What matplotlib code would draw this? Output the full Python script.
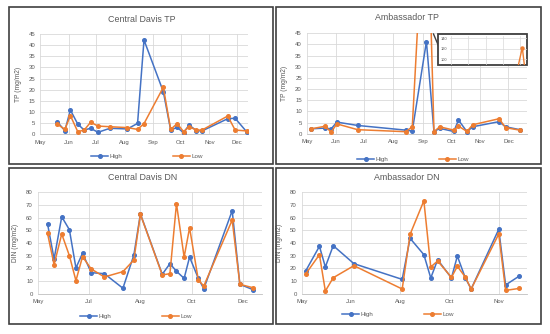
import matplotlib
matplotlib.use('Agg')
import matplotlib.pyplot as plt
from matplotlib.patches import Rectangle
from matplotlib.lines import Line2D

plt.rcParams['font.family'] = ['Liberation Sans', 'DejaVu Sans']

# Data (x = days from first tick)
month_ticks = [0, 31, 61, 92, 123, 153, 184, 214]
month_labels = ['May', 'Jun', 'Jul', 'Aug', 'Sep', 'Oct', 'Nov', 'Dec']

cd_tp_days = [19, 27, 33, 41, 48, 55, 63, 76, 95, 106, 113, 134, 142, 149, 156, 162, 170, 176, 204, 212, 225]
cd_tp_high = [5.5, 1.6, 10.9, 4.6, 1.9, 2.7, 0.9, 2.7, 2.4, 4.9, 42.3, 19.1, 1.9, 3.1, 0.7, 4.2, 1.6, 1.5, 7.0, 7.2, 0.9]
cd_tp_low = [4.5, 2.2, 8.4, 1.2, 1.9, 5.4, 3.7, 3.4, 3.0, 2.2, 4.8, 21.1, 2.2, 4.8, 1.2, 3.4, 1.9, 1.9, 8.2, 1.9, 1.5]

amb_tp_days = [5, 19, 26, 32, 54, 105, 112, 127, 135, 141, 156, 161, 170, 176, 204, 211, 226]
amb_tp_high = [2.2, 2.5, 2.2, 5.2, 3.7, 1.6, 1.2, 41.3, 0.9, 2.4, 1.0, 6.1, 0.9, 3.1, 5.4, 3.1, 1.8]
amb_tp_low = [2.2, 3.3, 0.8, 4.4, 1.8, 0.9, 3.1, 122, 0.9, 3.1, 1.6, 3.4, 1.0, 4.0, 6.7, 2.7, 1.6]

cd_dn_ticks = [0, 47, 94, 141, 188]
cd_dn_labels = ['May', 'Jul', 'Aug', 'Oct', 'Dec']
cd_dn_days = [9, 15, 22, 29, 35, 41, 49, 61, 78, 88, 94, 114, 121, 127, 134, 139, 147, 152, 178, 185, 197]
cd_dn_high = [55.2, 27.4, 60.7, 50.5, 20.3, 31.9, 16.6, 15.8, 4.3, 30.5, 62.9, 15.3, 23.7, 17.7, 12.1, 28.9, 12.1, 3.9, 65.5, 7.4, 3.2]
cd_dn_low = [47.6, 22.9, 47.1, 30.0, 10.3, 29.2, 19.5, 13.2, 17.4, 26.6, 62.6, 14.8, 15.8, 71.0, 28.9, 52.0, 10.8, 6.1, 58.1, 7.4, 4.7]

amb_dn_ticks = [0, 50, 100, 150, 200]
amb_dn_labels = ['May', 'Jun', 'Aug', 'Oct', 'Nov']
amb_dn_days = [4, 18, 24, 32, 53, 102, 110, 124, 131, 138, 152, 158, 166, 172, 200, 207, 221]
amb_dn_high = [17.9, 37.4, 21.1, 37.9, 23.7, 11.3, 43.7, 30.8, 12.4, 26.8, 12.4, 29.7, 12.6, 3.7, 50.8, 6.9, 14.0]
amb_dn_low = [15.5, 30.8, 2.1, 12.6, 22.1, 3.7, 46.8, 73.3, 21.1, 25.8, 12.9, 21.6, 13.2, 3.7, 47.1, 2.6, 4.2]

W, H = 550, 334
blue = '#4472C4'
orange = '#ED7D31'
grid_col = '#D9D9D9'
text_col = '#595959'


def px_axes(fig, x0, y0, x1, y1):
    return fig.add_axes([x0 / W, 1 - y1 / H, (x1 - x0) / W, (y1 - y0) / H])


def draw_panel(fig, box, title, title_xy, ylabel, days, high, low, xticks, xlabels,
               xlim, ymax, ystep, legend_xy):
    ax = px_axes(fig, *box)
    ax.plot(days, high, color=blue, lw=1.1, marker='o', ms=2.6, label='High', zorder=3)
    ax.plot(days, low, color=orange, lw=1.1, marker='o', ms=2.6, label='Low', zorder=3)
    ax.set_xlim(*xlim)
    ax.set_ylim(0, ymax)
    ax.set_xticks(xticks, xlabels)
    ax.set_yticks(range(0, ymax + 1, ystep))
    ax.grid(True, color=grid_col, lw=0.6)
    ax.set_axisbelow(True)
    for s in ['left', 'right', 'top']:
        ax.spines[s].set_visible(False)
    ax.spines['bottom'].set_color('#BFBFBF')
    ax.spines['bottom'].set_linewidth(0.6)
    ax.tick_params(length=0, labelsize=4.3, labelcolor=text_col)
    ax.tick_params(axis='y', pad=3.5)
    ax.tick_params(axis='x', pad=4)
    ax.set_ylabel(ylabel, fontsize=4.8, color=text_col)
    ax.yaxis.set_label_coords(-0.085, 0.5)
    fig.text(title_xy[0] / W, 1 - title_xy[1] / H, title, ha='center', va='center',
             fontsize=6.4, color=text_col)
    ax.legend(loc='center', bbox_to_anchor=(legend_xy[0] / W, 1 - legend_xy[1] / H),
              bbox_transform=fig.transFigure, ncol=2, frameon=False, fontsize=4.5,
              handlelength=2.7, columnspacing=8, handletextpad=0.3, labelcolor=text_col)
    return ax


fig = plt.figure(figsize=(5.5, 3.34), dpi=100)

# panel frames
for x0, y0, x1, y1 in [(9, 7, 273, 164), (276, 7, 541, 164), (9, 168, 273, 324), (276, 168, 541, 324)]:
    fig.add_artist(Rectangle((x0 / W, 1 - y1 / H), (x1 - x0) / W, (y1 - y0) / H,
                             transform=fig.transFigure, fill=False, ec='#3F3F3F', lw=1.2))

draw_panel(fig, (40, 34, 248, 134.3), 'Central Davis TP', (142, 19), 'TP (mg/m2)',
           cd_tp_days, cd_tp_high, cd_tp_low, month_ticks, month_labels, (0, 226), 45, 5, (147, 156))
draw_panel(fig, (306.7, 33.3, 527.3, 133.7), 'Ambassador TP', (407, 18), 'TP (mg/m2)',
           amb_tp_days, amb_tp_high, amb_tp_low, month_ticks, month_labels, (0, 234), 45, 5, (413, 159))
draw_panel(fig, (37.7, 192.3, 261.7, 293.7), 'Central Davis DN', (143, 178), 'DIN (mg/m2)',
           cd_dn_days, cd_dn_high, cd_dn_low, cd_dn_ticks, cd_dn_labels, (0, 205), 80, 10, (136, 316))
draw_panel(fig, (301.7, 192.3, 527.3, 293.7), 'Ambassador DN', (407, 177), 'DIN (mg/m2)',
           amb_dn_days, amb_dn_high, amb_dn_low, amb_dn_ticks, amb_dn_labels, (0, 229), 80, 10, (398, 314))

# inset showing the Ambassador TP low peak
fig.add_artist(Rectangle((438.3 / W, 1 - 65.3 / H), 88.4 / W, 31.3 / H, transform=fig.transFigure,
                         fc='white', ec='#3F3F3F', lw=1.3, zorder=4))
ax_in = px_axes(fig, 450, 36, 527, 65)
ax_in.set_zorder(5)
ax_in.patch.set_alpha(0)
ax_in.plot(amb_tp_days, amb_tp_low, color=orange, lw=1.0, marker='o', ms=2.2)
ax_in.set_xlim(50, 132)
ax_in.set_ylim(89, 144)
ax_in.set_yticks([100, 120, 140])
ax_in.set_xticks([51, 69.5, 88, 106.5, 125])
ax_in.set_xticklabels([])
ax_in.grid(True, color=grid_col, lw=0.5)
for s in ax_in.spines.values():
    s.set_visible(False)
ax_in.tick_params(length=0, labelsize=2.8, labelcolor=text_col, pad=2)
fig.add_artist(Line2D([433.5 / W, 439 / W], [1 - 34 / H, 1 - 47 / H], transform=fig.transFigure,
                      color='#3F3F3F', lw=1.0))

fig.savefig('out.png', dpi=100)
